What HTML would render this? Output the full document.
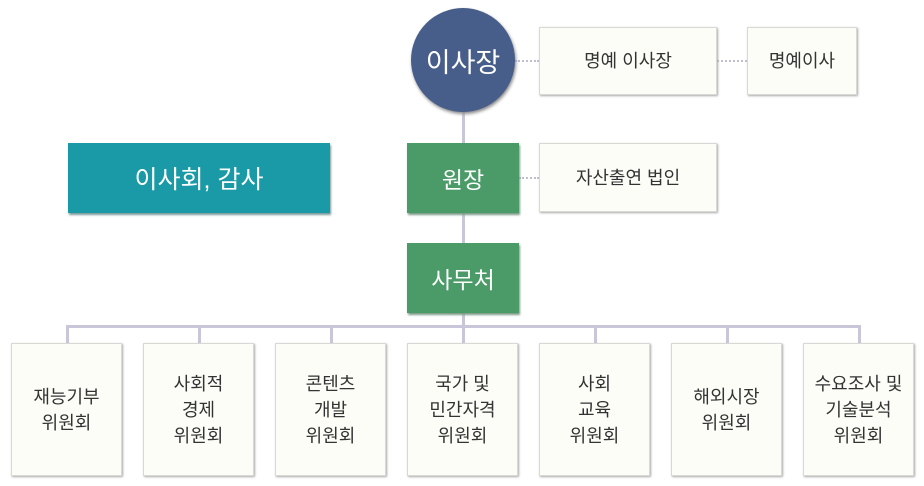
<!DOCTYPE html>
<html><head><meta charset="utf-8"><style>
body{margin:0;width:924px;height:486px;background:#fff;position:relative;overflow:hidden;font-family:"Liberation Sans","Noto Sans CJK KR",sans-serif}
.b{position:absolute;display:flex;align-items:center;justify-content:center;text-align:center;box-sizing:border-box}
.w{background:#fdfdf8;border:1px solid #d8d8d4;box-shadow:1px 1px 2px #aaa;color:#333;font-size:18px;line-height:26px}
.g{background:#4a9b68;color:#fff;font-size:23px;box-shadow:1px 2px 2px #7a9a85}
.l{position:absolute;background:#c8c6d8}
.d{position:absolute;border-top:2px dotted #c0bed0;height:0}
</style></head><body>
<div class="l" style="left:462px;top:100px;width:3px;height:232px"></div>
<div class="l" style="left:66px;top:325px;width:795px;height:3px"></div>
<div class="l" style="left:66px;top:325px;width:3px;height:18px"></div>
<div class="l" style="left:198px;top:325px;width:3px;height:18px"></div>
<div class="l" style="left:330px;top:325px;width:3px;height:18px"></div>
<div class="l" style="left:462px;top:325px;width:3px;height:18px"></div>
<div class="l" style="left:594px;top:325px;width:3px;height:18px"></div>
<div class="l" style="left:726px;top:325px;width:3px;height:18px"></div>
<div class="l" style="left:858px;top:325px;width:3px;height:18px"></div>
<div class="d" style="left:515px;top:60px;width:24px"></div>
<div class="d" style="left:717px;top:60px;width:30px"></div>
<div class="d" style="left:519px;top:177px;width:20px"></div>
<div class="b" style="left:411px;top:8px;width:104px;height:104px;border-radius:50%;background:#475d8a;color:#fff;font-size:27px;box-shadow:1px 2px 3px #888">이사장</div>
<div class="b w" style="left:539px;top:27px;width:178px;height:68px">명예 이사장</div>
<div class="b w" style="left:747px;top:27px;width:110px;height:68px">명예이사</div>
<div class="b" style="left:68px;top:143px;width:262px;height:70px;background:#1a9aa6;color:#fff;font-size:25px;box-shadow:1px 2px 2px #7a9a9a">이사회, 감사</div>
<div class="b g" style="left:407px;top:143px;width:112px;height:70px">원장</div>
<div class="b w" style="left:539px;top:143px;width:178px;height:69px">자산출연 법인</div>
<div class="b g" style="left:407px;top:243px;width:112px;height:70px">사무처</div>
<div class="b w" style="left:11px;top:343px;width:111px;height:133px">재능기부<br>위원회</div>
<div class="b w" style="left:143px;top:343px;width:111px;height:133px">사회적<br>경제<br>위원회</div>
<div class="b w" style="left:275px;top:343px;width:111px;height:133px">콘텐츠<br>개발<br>위원회</div>
<div class="b w" style="left:407px;top:343px;width:111px;height:133px">국가 및<br>민간자격<br>위원회</div>
<div class="b w" style="left:539px;top:343px;width:111px;height:133px">사회<br>교육<br>위원회</div>
<div class="b w" style="left:671px;top:343px;width:111px;height:133px">해외시장<br>위원회</div>
<div class="b w" style="left:803px;top:343px;width:111px;height:133px">수요조사 및<br>기술분석<br>위원회</div>
</body></html>
